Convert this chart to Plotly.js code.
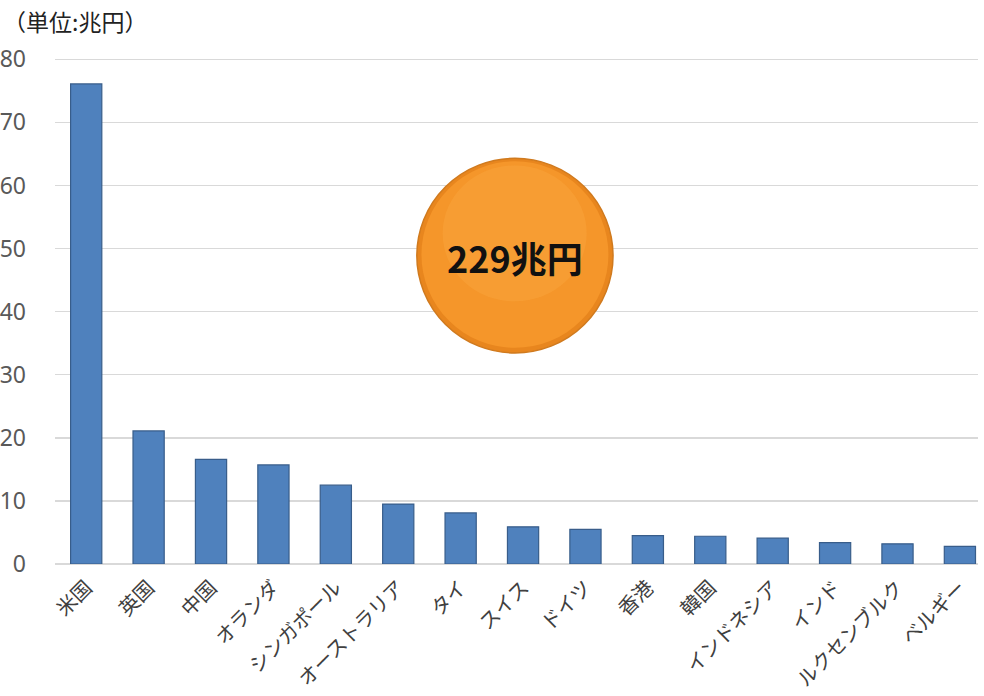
<!DOCTYPE html>
<html>
<head>
<meta charset="utf-8">
<script src="https://cdn.plot.ly/plotly-3.0.1.min.js"></script>
<style>html,body{margin:0;padding:0;background:#fff;}#chart{width:984px;height:696px;}</style>
</head>
<body>
<div id="chart"></div>
<script>
const categories = ["米国","英国","中国","オランダ","シンガポール","オーストラリア","タイ","スイス","ドイツ","香港","韓国","インドネシア","インド","ルクセンブルク","ベルギー"];
const values = [76.1, 21.1, 16.6, 15.7, 12.5, 9.5, 8.1, 5.9, 5.5, 4.5, 4.4, 4.1, 3.4, 3.2, 2.8];
const yTicks = [0, 10, 20, 30, 40, 50, 60, 70, 80];
const unitLabel = "（単位:兆円）";
const totalLabel = "229兆円";

const font = "Noto Sans CJK JP, Noto Sans, sans-serif";

const trace = {
  type: "bar",
  x: categories,
  y: values,
  width: 0.5,
  marker: {color: "#4F81BD", line: {color: "#385D8A", width: 1.2}},
  hoverinfo: "skip"
};

// plot area: 0 at y=564, 80 at y=59
const layout = {
  width: 984, height: 696,
  margin: {l: 55, r: 6, t: 53, b: 132},
  paper_bgcolor: "#fff", plot_bgcolor: "#fff",
  showlegend: false,
  font: {family: font},
  bargap: 0.5,
  xaxis: {
    type: "category",
    range: [-0.5, 14.29],
    tickangle: -45,
    tickfont: {size: 20, color: "#404040", family: font},
    showgrid: false, zeroline: false, showline: false, ticks: "",
    ticklabelstandoff: 7
  },
  yaxis: {
    range: [0, 81],
    tickvals: yTicks,
    ticktext: yTicks.map(String),
    tickfont: {size: 23, color: "#595959", family: "Noto Sans, sans-serif"},
    showgrid: true, gridcolor: "#D9D9D9", gridwidth: 1.5,
    zeroline: true, zerolinecolor: "#D9D9D9", zerolinewidth: 1.5,
    showline: false, ticks: "", ticklabelstandoff: 28
  },
  shapes: [
    {type: "circle", xref: "paper", yref: "paper", x0: 0.392, x1: 0.6046, y0: 0.413, y1: 0.794,
     fillcolor: "#E8861E", line: {color: "#D07A1E", width: 1.5}, layer: "above"},
    {type: "circle", xref: "paper", yref: "paper", x0: 0.397, x1: 0.5996, y0: 0.423, y1: 0.788,
     fillcolor: "#F5962A", line: {width: 0}, layer: "above"},
    {type: "circle", xref: "paper", yref: "paper", x0: 0.42, x1: 0.576, y0: 0.514, y1: 0.78,
     fillcolor: "rgba(252,172,70,0.35)", line: {width: 0}, layer: "above"}
  ],
  annotations: [
    {text: unitLabel, xref: "paper", yref: "paper", x: -54/923, y: 1 + 32/511, xanchor: "left", yanchor: "middle",
     showarrow: false, font: {size: 23, color: "#222", family: font}},
    {text: "<b>" + totalLabel + "</b>", xref: "paper", yref: "paper", x: 0.4983, y: 0.601, xanchor: "center", yanchor: "middle",
     showarrow: false, font: {size: 36, color: "#111", family: font}}
  ]
};

Plotly.newPlot("chart", [trace], layout, {displayModeBar: false, staticPlot: true});
</script>
</body>
</html>
